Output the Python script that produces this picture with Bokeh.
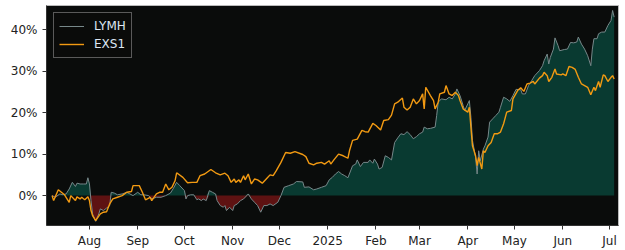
import numpy as np
import pandas as pd
from bokeh.plotting import figure
from bokeh.models import Range1d, FixedTicker, PrintfTickFormatter, CustomJSTickFormatter, ColumnDataSource
from bokeh.embed import file_html
from bokeh.resources import INLINE

# ---------------- data (cumulative return, %) ----------------
lymh_dates = [
    "2024-07-08", "2024-07-10", "2024-07-13", "2024-07-15", "2024-07-17", "2024-07-19", "2024-07-21",
    "2024-07-23", "2024-07-24", "2024-07-26", "2024-07-28", "2024-07-30", "2024-07-31", "2024-08-01",
    "2024-08-02", "2024-08-03", "2024-08-05", "2024-08-07", "2024-08-08", "2024-08-10", "2024-08-12",
    "2024-08-14", "2024-08-15", "2024-08-17", "2024-08-19", "2024-08-22", "2024-08-25", "2024-08-27",
    "2024-08-29", "2024-09-01", "2024-09-03", "2024-09-05", "2024-09-08", "2024-09-10", "2024-09-13",
    "2024-09-16", "2024-09-19", "2024-09-22", "2024-09-24", "2024-09-26", "2024-09-28", "2024-10-01",
    "2024-10-02", "2024-10-03", "2024-10-05", "2024-10-07", "2024-10-09", "2024-10-10", "2024-10-12",
    "2024-10-13", "2024-10-15", "2024-10-17", "2024-10-19", "2024-10-21", "2024-10-22", "2024-10-24",
    "2024-10-26", "2024-10-27", "2024-10-28", "2024-10-30", "2024-11-01", "2024-11-02", "2024-11-04",
    "2024-11-06", "2024-11-08", "2024-11-11", "2024-11-13", "2024-11-15", "2024-11-17", "2024-11-19",
    "2024-11-21", "2024-11-23", "2024-11-25", "2024-11-27", "2024-11-30", "2024-12-02", "2024-12-04",
    "2024-12-07", "2024-12-10", "2024-12-12", "2024-12-16", "2024-12-17", "2024-12-20", "2024-12-23",
    "2024-12-25", "2024-12-28", "2024-12-31", "2025-01-02", "2025-01-04", "2025-01-06", "2025-01-08",
    "2025-01-10", "2025-01-12", "2025-01-14", "2025-01-17", "2025-01-19", "2025-01-20", "2025-01-22",
    "2025-01-24", "2025-01-27", "2025-01-28", "2025-01-30", "2025-01-31", "2025-02-02", "2025-02-03",
    "2025-02-05", "2025-02-07", "2025-02-09", "2025-02-11", "2025-02-13", "2025-02-15", "2025-02-17",
    "2025-02-19", "2025-02-21", "2025-02-23", "2025-02-25", "2025-02-27", "2025-03-01", "2025-03-03",
    "2025-03-04", "2025-03-06", "2025-03-08", "2025-03-11", "2025-03-12", "2025-03-13", "2025-03-15",
    "2025-03-18", "2025-03-20", "2025-03-22", "2025-03-24", "2025-03-25", "2025-03-27", "2025-03-29",
    "2025-03-30", "2025-04-01", "2025-04-02", "2025-04-03", "2025-04-04", "2025-04-06", "2025-04-07",
    "2025-04-08", "2025-04-09", "2025-04-11", "2025-04-12", "2025-04-14", "2025-04-15", "2025-04-17",
    "2025-04-19", "2025-04-21", "2025-04-22", "2025-04-24", "2025-04-26", "2025-04-28", "2025-04-30",
    "2025-05-02", "2025-05-05", "2025-05-06", "2025-05-08", "2025-05-10", "2025-05-12", "2025-05-14",
    "2025-05-17", "2025-05-19", "2025-05-20", "2025-05-22", "2025-05-23", "2025-05-24", "2025-05-26",
    "2025-05-27", "2025-05-29", "2025-05-30", "2025-06-02", "2025-06-04", "2025-06-06", "2025-06-08",
    "2025-06-10", "2025-06-11", "2025-06-13", "2025-06-15", "2025-06-17", "2025-06-19", "2025-06-20",
    "2025-06-21", "2025-06-23", "2025-06-24", "2025-06-26", "2025-06-28", "2025-06-30", "2025-07-02",
    "2025-07-03", "2025-07-04",
]
lymh_values = [
    0.0, -0.4, 0.4, 0.2, 0.4, 1.6, 3.2,
    2.2, 3.0, 2.8, 2.8, 2.8, 4.3, 2.8,
    -1.2, -4.4, -6.2, -4.4, -3.2, -3.6, -3.0,
    -2.4, 0.8, 0.6, 0.2, 0.4, 0.8, 0.4,
    0.0, 0.8, 0.2, 0.2, 0.0, -0.8, -0.4,
    -0.4, 0.0, 0.6, 1.8, 3.2, 2.4, 1.2,
    -0.8, 0.0, 0.2, 0.2, -1.0, -0.8, -1.2,
    -0.8, -1.2, 1.2, 0.8, 0.4, -1.2, -2.4,
    -2.8, -2.4, -3.6, -2.8, -3.6, -2.4, -2.0,
    -1.2, -0.8, 0.4, -0.8, -1.6, -2.4, -4.0,
    -2.4, -2.4, -2.0, -2.4, -1.6, 0.0, 2.0,
    2.4, 2.8, 3.4, 3.3, 2.0, 2.1, 1.4,
    1.6, 2.0, 2.4, 3.8, 4.4, 5.2, 5.8,
    5.2, 4.8, 4.3, 7.2, 7.6, 8.6, 7.0,
    8.0, 8.0, 8.6, 7.8, 8.8, 7.6, 6.4,
    6.8, 9.6, 9.2, 8.6, 12.8, 13.9, 14.9,
    14.7, 15.4, 14.7, 13.7, 14.2, 14.9, 15.3,
    16.5, 16.1, 16.2, 16.5, 19.3, 22.5, 23.3,
    23.1, 23.7, 23.3, 24.5, 25.7, 24.1, 21.7,
    20.5, 22.1, 22.9, 18.9, 13.3, 9.2, 5.2,
    10.8, 8.4, 11.2, 12.0, 14.1, 17.7, 18.5,
    19.3, 20.1, 21.3, 23.7, 23.3, 22.7, 24.1,
    25.6, 25.5, 24.5, 24.5, 26.5, 27.7, 28.9,
    30.1, 31.3, 32.5, 34.1, 31.7, 33.3, 35.3,
    38.0, 36.1, 34.9, 35.2, 35.3, 36.9, 36.8,
    37.0, 38.2, 36.5, 35.3, 33.7, 31.3, 35.3,
    37.8, 37.8, 39.0, 39.4, 39.4, 41.0, 42.2,
    44.6, 43.0,
]

exs1_dates = [
    "2024-07-08", "2024-07-09", "2024-07-12", "2024-07-14", "2024-07-16", "2024-07-19", "2024-07-20",
    "2024-07-23", "2024-07-24", "2024-07-26", "2024-07-27", "2024-07-29", "2024-07-31", "2024-08-01",
    "2024-08-02", "2024-08-03", "2024-08-05", "2024-08-08", "2024-08-10", "2024-08-12", "2024-08-14",
    "2024-08-16", "2024-08-19", "2024-08-22", "2024-08-25", "2024-08-28", "2024-08-29", "2024-09-02",
    "2024-09-04", "2024-09-06", "2024-09-09", "2024-09-10", "2024-09-13", "2024-09-15", "2024-09-17",
    "2024-09-19", "2024-09-21", "2024-09-23", "2024-09-25", "2024-09-26", "2024-09-30", "2024-10-03",
    "2024-10-06", "2024-10-09", "2024-10-11", "2024-10-14", "2024-10-18", "2024-10-21", "2024-10-24",
    "2024-10-27", "2024-10-29", "2024-10-31", "2024-11-02", "2024-11-03", "2024-11-05", "2024-11-06",
    "2024-11-08", "2024-11-09", "2024-11-11", "2024-11-13", "2024-11-15", "2024-11-17", "2024-11-20",
    "2024-11-23", "2024-11-25", "2024-11-27", "2024-11-29", "2024-12-02", "2024-12-05", "2024-12-08",
    "2024-12-11", "2024-12-16", "2024-12-18", "2024-12-20", "2024-12-23", "2024-12-25", "2024-12-28",
    "2024-12-30", "2025-01-02", "2025-01-03", "2025-01-05", "2025-01-08", "2025-01-11", "2025-01-14",
    "2025-01-15", "2025-01-17", "2025-01-20", "2025-01-23", "2025-01-25", "2025-01-27", "2025-01-30",
    "2025-02-01", "2025-02-04", "2025-02-06", "2025-02-09", "2025-02-11", "2025-02-13", "2025-02-15",
    "2025-02-18", "2025-02-19", "2025-02-21", "2025-02-23", "2025-02-25", "2025-02-27", "2025-03-01",
    "2025-03-03", "2025-03-04", "2025-03-05", "2025-03-08", "2025-03-10", "2025-03-11", "2025-03-13",
    "2025-03-14", "2025-03-17", "2025-03-18", "2025-03-20", "2025-03-22", "2025-03-24", "2025-03-26",
    "2025-03-27", "2025-03-29", "2025-04-01", "2025-04-02", "2025-04-03", "2025-04-04", "2025-04-06",
    "2025-04-07", "2025-04-08", "2025-04-10", "2025-04-11", "2025-04-12", "2025-04-14", "2025-04-16",
    "2025-04-18", "2025-04-20", "2025-04-22", "2025-04-24", "2025-04-26", "2025-04-29", "2025-04-30",
    "2025-05-03", "2025-05-05", "2025-05-07", "2025-05-09", "2025-05-11", "2025-05-13", "2025-05-14",
    "2025-05-17", "2025-05-19", "2025-05-20", "2025-05-22", "2025-05-23", "2025-05-25", "2025-05-27",
    "2025-05-28", "2025-05-31", "2025-06-01", "2025-06-03", "2025-06-05", "2025-06-07", "2025-06-09",
    "2025-06-11", "2025-06-13", "2025-06-15", "2025-06-17", "2025-06-19", "2025-06-21", "2025-06-22",
    "2025-06-24", "2025-06-25", "2025-06-27", "2025-06-28", "2025-06-30", "2025-07-02", "2025-07-03",
    "2025-07-04",
]
exs1_values = [
    0.0, -1.2, 1.4, 0.8, 0.2, -1.6, 0.0,
    -1.2, -0.3, -0.8, -0.4, -1.0, -0.3, -1.2,
    -3.6, -4.8, -6.0, -4.4, -4.0, -3.9, -2.0,
    -0.8, -0.4, 0.0, 0.8, 1.0, 2.4, 2.4,
    0.8, -1.0, -0.4, -1.2, 0.4, 0.8, 0.8,
    2.8, 1.4, 2.0, 3.6, 5.5, 4.4, 3.1,
    3.2, 3.2, 4.8, 5.2, 6.3, 5.5, 5.0,
    5.4, 4.8, 3.2, 4.0, 3.2, 3.8, 3.2,
    4.8, 3.8, 5.2, 2.8, 4.0, 3.8, 3.0,
    4.2, 5.0, 4.8, 6.0, 8.0, 10.4, 10.2,
    10.6, 9.9, 9.4, 7.8, 7.4, 7.8, 8.0,
    7.6, 8.4, 7.6, 8.6, 10.0, 9.6, 9.0,
    10.8, 13.3, 13.6, 15.7, 15.4, 15.3, 17.4,
    16.9, 15.8, 18.1, 18.3, 19.4, 22.1, 22.5,
    23.5, 21.3, 20.6, 21.3, 23.3, 22.1, 22.9,
    24.5, 20.9, 26.1, 24.1, 22.9, 20.9, 22.5,
    24.5, 24.9, 26.5, 24.5, 24.1, 24.9, 24.1,
    22.9, 20.9, 20.1, 21.3, 16.5, 12.0, 9.6,
    7.2, 9.2, 6.4, 10.8, 10.4, 12.0, 12.8,
    14.9, 14.9, 15.3, 17.3, 20.1, 20.5, 23.3,
    25.3, 26.0, 25.1, 26.9, 27.1, 27.5, 26.9,
    28.3, 28.9, 29.7, 28.9, 27.5, 28.5, 30.5,
    29.3, 29.1, 29.3, 28.9, 31.1, 30.9, 30.4,
    28.5, 26.9, 26.5, 26.1, 24.3, 26.1, 25.3,
    27.5, 26.1, 29.1, 28.9, 27.5, 28.5, 28.9,
    28.1,
]

y_ticks = [0, 10, 20, 30, 40]
x_tick_dates = ["2024-08-01", "2024-09-01", "2024-10-01", "2024-11-01", "2024-12-01", "2025-01-01",
                "2025-02-01", "2025-03-01", "2025-04-01", "2025-05-01", "2025-06-01", "2025-07-01"]
month_names = ["Jan", "Feb", "Mar", "Apr", "May", "Jun", "Jul", "Aug", "Sep", "Oct", "Nov", "Dec"]
series_names = ["LYMH", "EXS1"]

# ---------------- figure ----------------
FONT = "DejaVu Sans"
BG = "#0a0c0b"

lymh_x = pd.to_datetime(lymh_dates)
exs1_x = pd.to_datetime(exs1_dates)
lv = np.array(lymh_values, dtype=float)
ev = np.array(exs1_values, dtype=float)

p = figure(width=625, height=250, x_axis_type="datetime", output_backend="svg",
           toolbar_location=None, min_border_left=46, min_border_right=7,
           min_border_top=5, min_border_bottom=25)
p.x_range = Range1d(pd.Timestamp("2024-07-04 10:00"), pd.Timestamp("2025-07-06 19:00"))
p.y_range = Range1d(-7.2, 45.8)

p.background_fill_color = BG
p.border_fill_color = "white"
p.outline_line_color = "#bbbbbb"
p.xgrid.visible = False
p.ygrid.visible = False

src = ColumnDataSource(dict(x=lymh_x, y=lv, pos=np.maximum(lv, 0), neg=np.minimum(lv, 0),
                            zero=np.zeros_like(lv)))
p.varea(x="x", y1="zero", y2="pos", source=src, fill_color="#093a31", fill_alpha=1.0)
p.varea(x="x", y1="zero", y2="neg", source=src, fill_color="#5e1212", fill_alpha=1.0)
p.line(x="x", y="y", source=src, line_color="#77888a", line_width=1, legend_label=series_names[0])
p.line(exs1_x, ev, line_color="#f29a12", line_width=1.4, legend_label=series_names[1])

# axes
for ax in (p.xaxis[0], p.yaxis[0]):
    ax.axis_line_color = "#333333"
    ax.major_tick_line_color = "#333333"
    ax.minor_tick_line_color = None
    ax.major_tick_in = 0
    ax.major_tick_out = 4
    ax.major_label_text_font = FONT
    ax.major_label_text_font_size = "12px"
    ax.major_label_text_color = "#222222"

p.yaxis.ticker = FixedTicker(ticks=y_ticks)
p.yaxis.formatter = PrintfTickFormatter(format="%d%%")
p.yaxis.major_label_standoff = 5

p.xaxis.ticker = FixedTicker(ticks=[pd.Timestamp(d).value / 1e6 for d in x_tick_dates])
p.xaxis.formatter = CustomJSTickFormatter(args=dict(names=month_names), code="""
    const d = new Date(tick);
    const m = d.getUTCMonth();
    return m == 0 ? String(d.getUTCFullYear()) : names[m];
""")
p.xaxis.major_label_standoff = 4

# legend
lg = p.legend[0]
lg.location = "top_left"
lg.margin = 7
lg.padding = 5
lg.spacing = 2
lg.glyph_width = 25
lg.glyph_height = 16
lg.label_height = 16
lg.label_standoff = 10
lg.label_text_font = FONT
lg.label_text_font_size = "12px"
lg.label_text_color = "#dde6f2"
lg.background_fill_color = BG
lg.background_fill_alpha = 0.85
lg.border_line_color = "#aaaaaa"
lg.border_line_width = 1

open("out.html", "w").write(file_html(p, INLINE))
